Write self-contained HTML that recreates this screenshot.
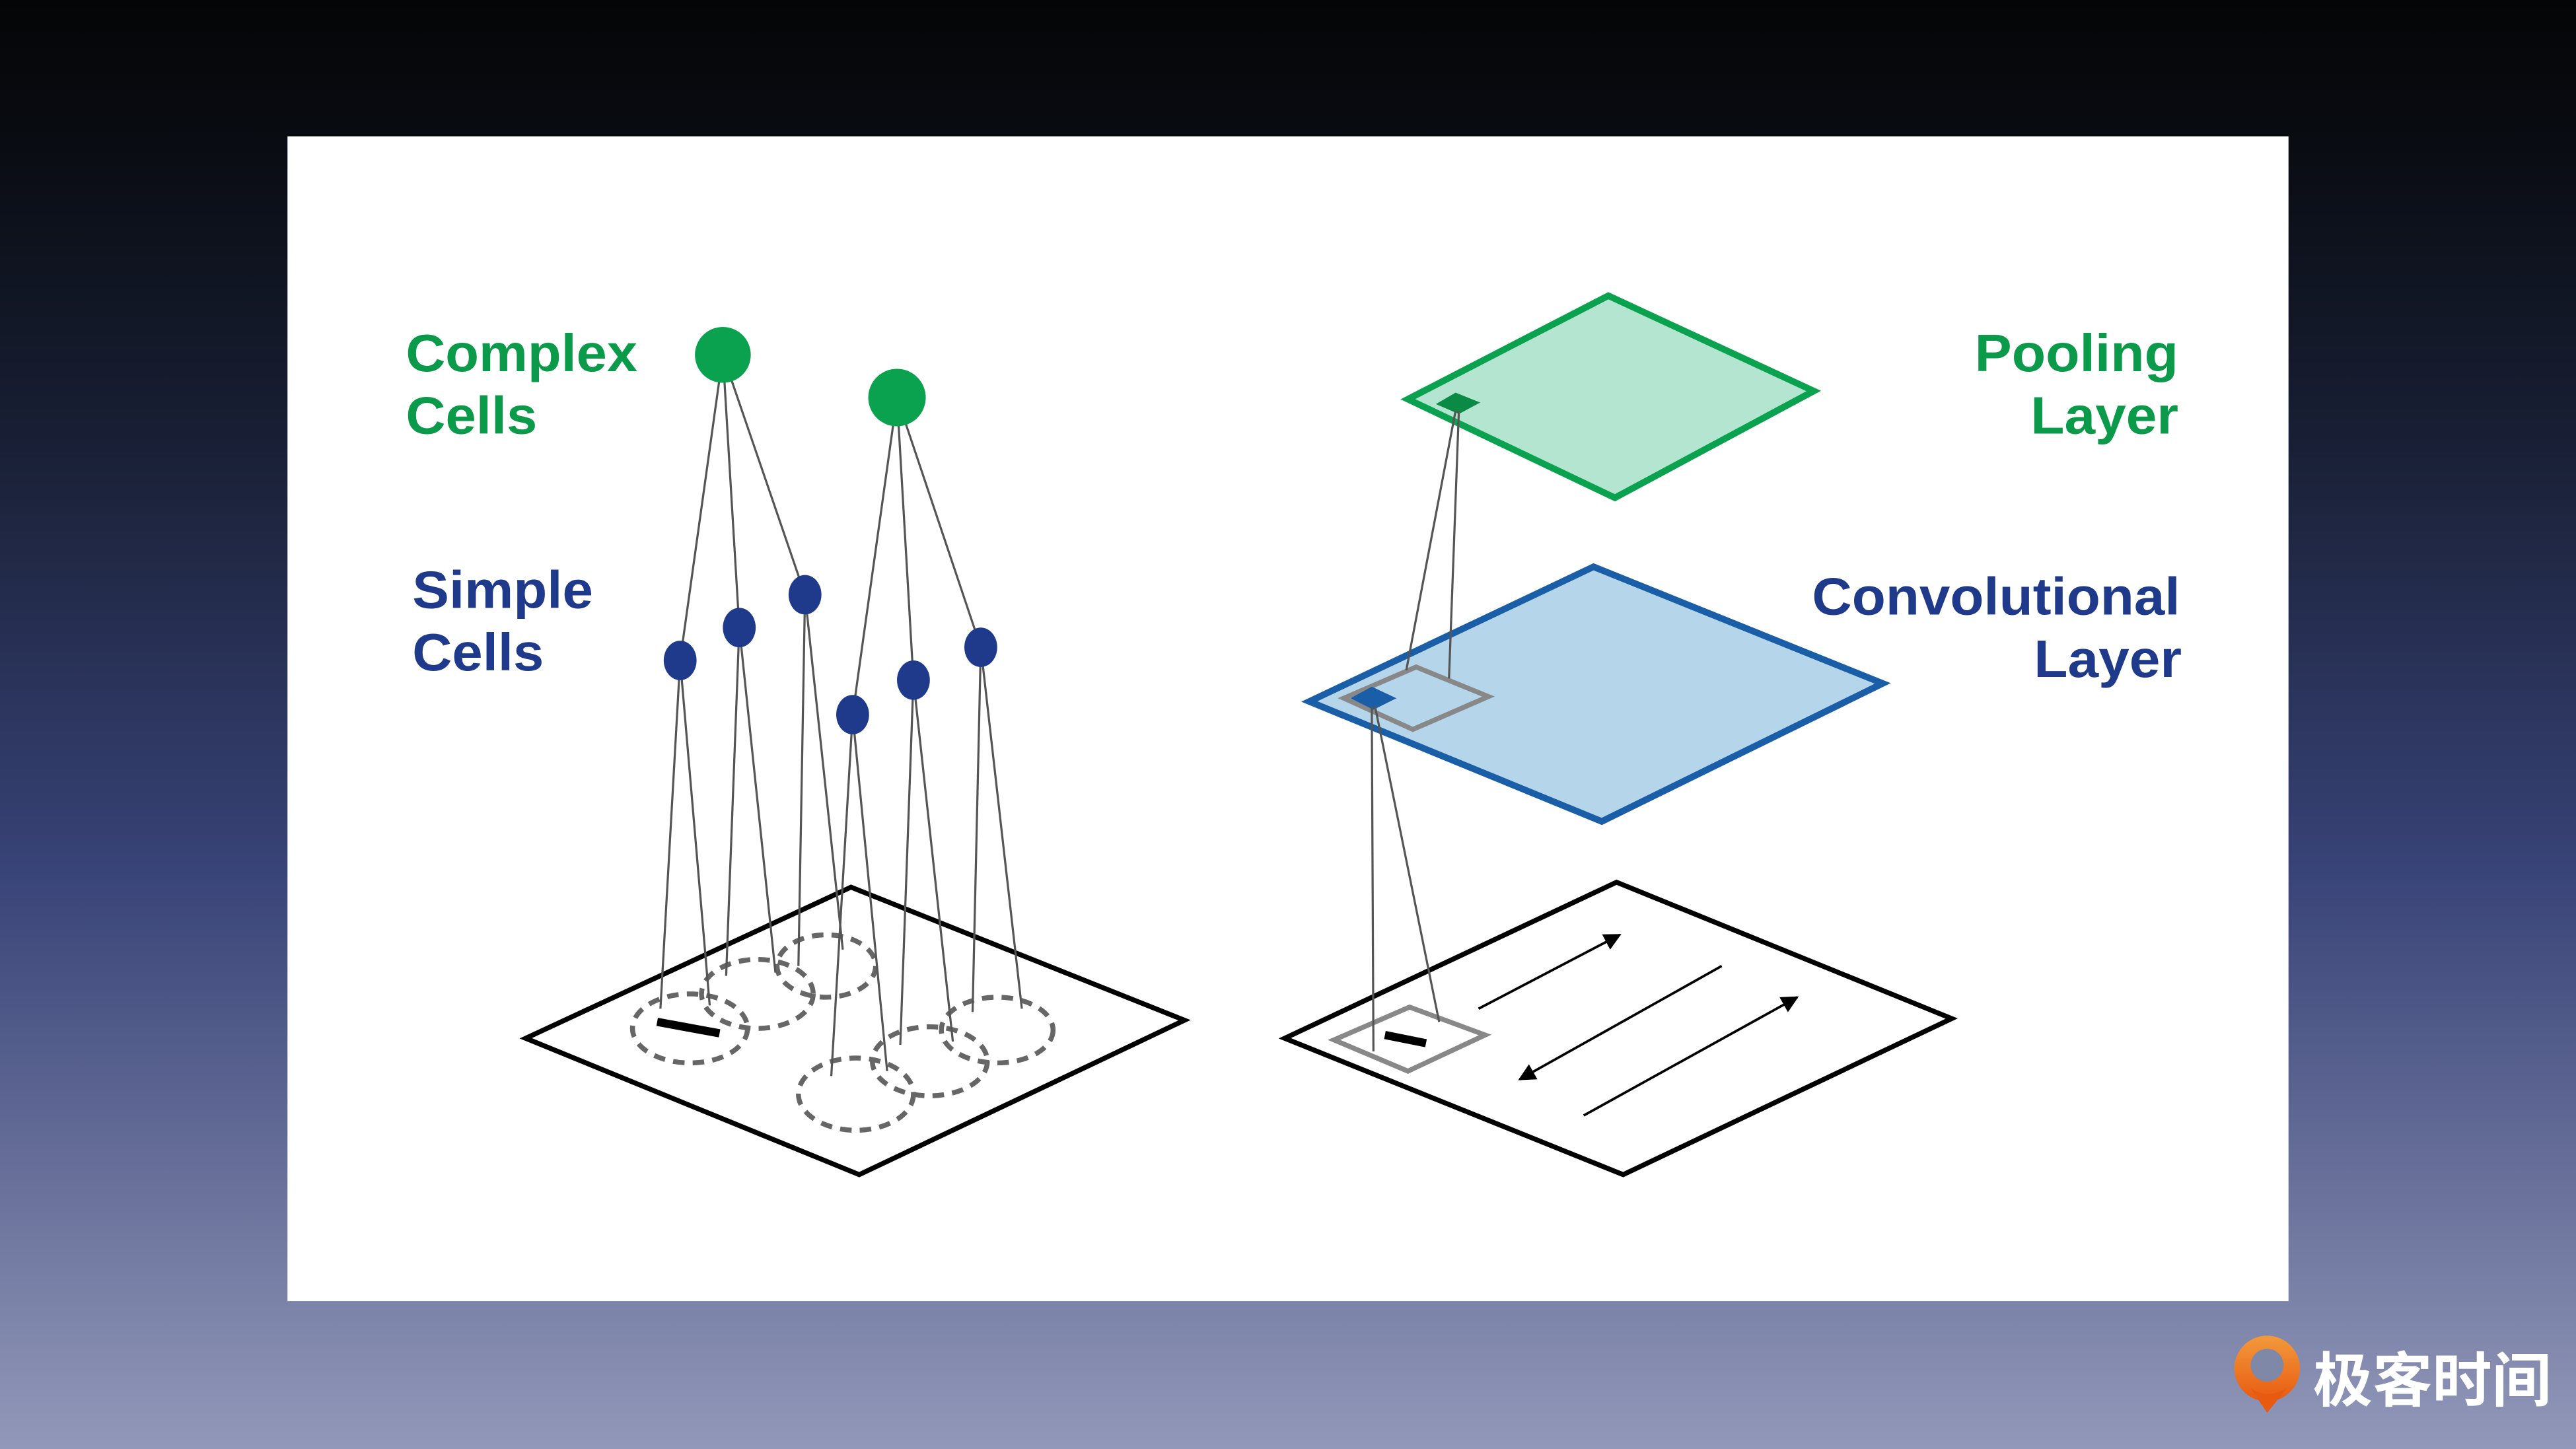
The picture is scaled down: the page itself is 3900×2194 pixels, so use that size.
<!DOCTYPE html>
<html><head><meta charset="utf-8"><style>
html,body{margin:0;padding:0;width:3900px;height:2194px;overflow:hidden}
svg{display:block}
</style></head><body>
<svg width="3900" height="2194" viewBox="0 0 1568 882" preserveAspectRatio="none" xmlns="http://www.w3.org/2000/svg">
<defs>
<linearGradient id="bg" x1="0" y1="0" x2="0" y2="1">
<stop offset="0" stop-color="#040506"/>
<stop offset="0.1" stop-color="#090c12"/>
<stop offset="0.32" stop-color="#1a2138"/>
<stop offset="0.6" stop-color="#384377"/>
<stop offset="1" stop-color="#9298b9"/>
</linearGradient>
<linearGradient id="og" x1="0" y1="0" x2="0" y2="1">
<stop offset="0" stop-color="#f29a3c"/><stop offset="1" stop-color="#e85a10"/>
</linearGradient>
<marker id="ah" viewBox="0 0 10 10" refX="9" refY="5" markerWidth="7" markerHeight="7" orient="auto"><path d="M0,0 L10,5 L0,10 z" fill="#000"/></marker>
</defs>
<rect width="1568" height="882" fill="url(#bg)"/>
<rect x="175" y="83" width="1218" height="709" fill="#fff"/>

<g font-family="Liberation Sans, sans-serif" font-weight="bold" font-size="32" lengthAdjust="spacingAndGlyphs">
<text x="247" y="226" fill="#0a9a4a" textLength="141" lengthAdjust="spacingAndGlyphs">Complex</text>
<text x="247" y="264" fill="#0a9a4a" textLength="80" lengthAdjust="spacingAndGlyphs">Cells</text>
<text x="251" y="370" fill="#1f3a8a" textLength="110" lengthAdjust="spacingAndGlyphs">Simple</text>
<text x="251" y="408" fill="#1f3a8a" textLength="80" lengthAdjust="spacingAndGlyphs">Cells</text>
<text x="1202" y="226" fill="#0a9a4a" textLength="124" lengthAdjust="spacingAndGlyphs">Pooling</text>
<text x="1236" y="264" fill="#0a9a4a" textLength="90" lengthAdjust="spacingAndGlyphs">Layer</text>
<text x="1103" y="374" fill="#1f3a8a" textLength="224" lengthAdjust="spacingAndGlyphs">Convolutional</text>
<text x="1238" y="412" fill="#1f3a8a" textLength="90" lengthAdjust="spacingAndGlyphs">Layer</text>
</g>

<polygon points="320,632 518,540 721,621 523,715" fill="#fff" stroke="#000" stroke-width="3"/>
<g fill="none" stroke="#666" stroke-width="3" stroke-dasharray="7,5">
<ellipse cx="420" cy="626" rx="35" ry="21"/>
<ellipse cx="461" cy="605" rx="34" ry="21"/>
<ellipse cx="503" cy="588" rx="30" ry="19"/>
<ellipse cx="521" cy="666" rx="35" ry="22"/>
<ellipse cx="566" cy="646" rx="35" ry="21"/>
<ellipse cx="607" cy="627" rx="34" ry="20"/>
</g>
<line x1="400" y1="622" x2="438" y2="629" stroke="#000" stroke-width="5"/>
<g stroke="#555" stroke-width="1.3">
<line x1="440" y1="216" x2="414" y2="402"/><line x1="440" y1="216" x2="450" y2="382"/><line x1="440" y1="216" x2="490" y2="362"/>
<line x1="546" y1="242" x2="519" y2="435"/><line x1="546" y1="242" x2="556" y2="414"/><line x1="546" y1="242" x2="597" y2="394"/>
<line x1="414" y1="402" x2="402" y2="614"/><line x1="414" y1="402" x2="432" y2="612"/>
<line x1="450" y1="382" x2="442" y2="594"/><line x1="450" y1="382" x2="472" y2="592"/>
<line x1="490" y1="362" x2="486" y2="588"/><line x1="490" y1="362" x2="513" y2="578"/>
<line x1="519" y1="435" x2="506" y2="655"/><line x1="519" y1="435" x2="540" y2="652"/>
<line x1="556" y1="414" x2="548" y2="636"/><line x1="556" y1="414" x2="580" y2="634"/>
<line x1="597" y1="394" x2="592" y2="616"/><line x1="597" y1="394" x2="622" y2="614"/>
</g>
<circle cx="440" cy="216" r="17" fill="#0aa24f"/>
<circle cx="546" cy="242" r="17.5" fill="#0aa24f"/>
<g fill="#1f3a8a">
<ellipse cx="414" cy="402" rx="10" ry="12"/><ellipse cx="450" cy="382" rx="10" ry="12"/><ellipse cx="490" cy="362" rx="10" ry="12"/>
<ellipse cx="519" cy="435" rx="10" ry="12"/><ellipse cx="556" cy="414" rx="10" ry="12"/><ellipse cx="597" cy="394" rx="10" ry="12"/>
</g>

<polygon points="782,632 984,537 1188,620 988,715" fill="#fff" stroke="#000" stroke-width="3"/>
<polygon points="812,633 858,613 904,630 857,652" fill="none" stroke="#888" stroke-width="3"/>
<line x1="843" y1="630" x2="868" y2="635" stroke="#000" stroke-width="5"/>
<line x1="900" y1="614" x2="986" y2="569" stroke="#000" stroke-width="1.5" marker-end="url(#ah)"/>
<line x1="1048" y1="588" x2="925" y2="657" stroke="#000" stroke-width="1.5" marker-end="url(#ah)"/>
<line x1="964" y1="679" x2="1094" y2="607" stroke="#000" stroke-width="1.5" marker-end="url(#ah)"/>

<polygon points="797,427 970,345 1146,416 975,500" fill="#b5d6ea" stroke="#1a5ea8" stroke-width="4"/>
<polygon points="818,425 862,406 906,424 860,444" fill="none" stroke="#888" stroke-width="3"/>
<polygon points="822,425 835,418 850,425 836,432" fill="#1a5ea8"/>
<polygon points="857,243 979,180 1104,238 983,303" fill="#b3e5d0" stroke="#0aa24f" stroke-width="4"/>
<polygon points="874,246 886,239 901,245 888,252" fill="#0a8a45"/>
<g stroke="#555" stroke-width="1.3">
<line x1="886" y1="250" x2="856" y2="408"/><line x1="888" y1="250" x2="882" y2="413"/>
<line x1="835" y1="430" x2="836" y2="640"/><line x1="837" y1="430" x2="876" y2="622"/>
</g>

<circle cx="1380" cy="833" r="20" fill="url(#og)"/>
<circle cx="1380" cy="831" r="10" fill="#8088a8"/>
<path d="M1370,845 Q1380,852 1392,845 L1380,860 Z" fill="#e85a10"/>
<text x="1408" y="853" font-family="Liberation Sans, Noto Sans CJK SC, sans-serif" font-size="36" font-weight="bold" fill="#fff" textLength="145" lengthAdjust="spacingAndGlyphs">极客时间</text>
</svg>
</body></html>
